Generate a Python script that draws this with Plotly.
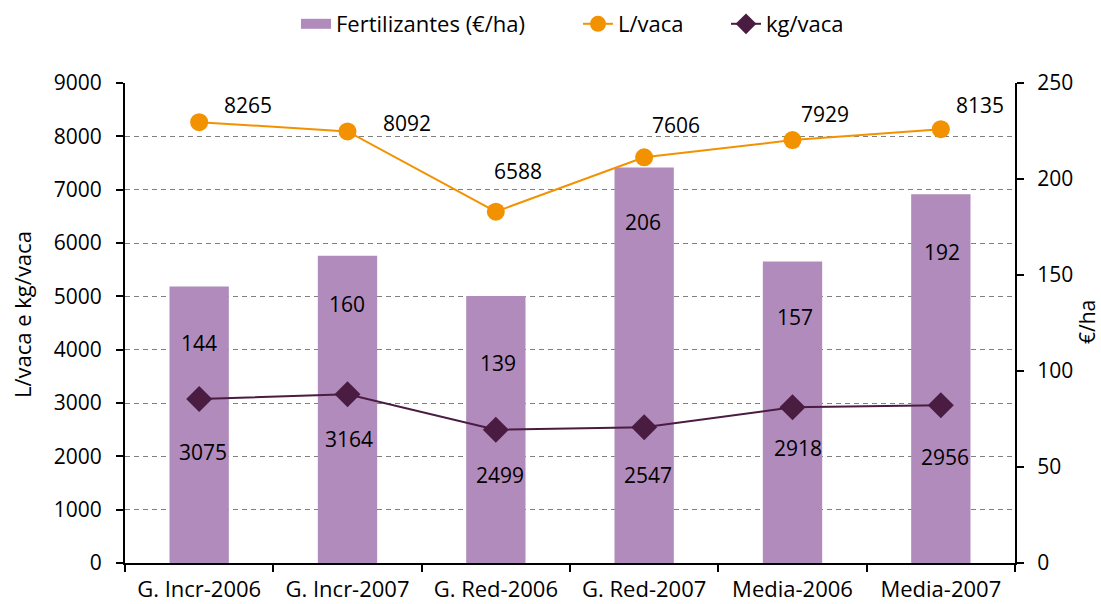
import plotly.graph_objects as go

categories = ["G. Incr-2006", "G. Incr-2007", "G. Red-2006", "G. Red-2007", "Media-2006", "Media-2007"]
fertilizantes = [144, 160, 139, 206, 157, 192]
l_vaca = [8265, 8092, 6588, 7606, 7929, 8135]
kg_vaca = [3075, 3164, 2499, 2547, 2918, 2956]

# label offsets (pixels) – styling only
l_shift = [(49, 17), (59, 8), (22, 41), (32, 32), (32, 26), (39, 24)]
bar_shift = [(0, -56), (-1, -48), (2, -67), (-1, -55), (2, -55), (1, -58)]
kg_shift = [(4, -53), (1, -45), (4, -45), (4, -48), (5, -41), (4, -52)]

FONT = "Open Sans"
ORANGE = "#F39200"
PURPLE = "#4A1C42"
BAR = "#B08BBB"

fig = go.Figure()
# bars on the base axis (drawn first), lines on the overlaying axis (drawn on top)
fig.add_trace(go.Bar(x=categories, y=fertilizantes, name="Fertilizantes (€/ha)",
                     marker=dict(color=BAR, line=dict(width=0)), width=0.4, yaxis="y",
                     showlegend=False))
# legend-only swatch for the bars (wide rectangle like the reference)
fig.add_trace(go.Scatter(x=[None], y=[None], name="Fertilizantes (€/ha)", mode="lines",
                         line=dict(color=BAR, width=10), yaxis="y", legend="legend"))
fig.add_trace(go.Scatter(x=categories, y=l_vaca, name="L/vaca", mode="lines+markers",
                         line=dict(color=ORANGE, width=2), yaxis="y2", legend="legend2",
                         marker=dict(symbol="circle", size=18, color=ORANGE)))
fig.add_trace(go.Scatter(x=categories, y=kg_vaca, name="kg/vaca", mode="lines+markers",
                         line=dict(color=PURPLE, width=2), yaxis="y2", legend="legend3",
                         marker=dict(symbol="diamond", size=20, color=PURPLE)))

lab_font = dict(size=21, color="black", family=FONT)
ann = []
for c, v, (dx, dy) in zip(categories, l_vaca, l_shift):
    ann.append(dict(x=c, y=v, xref="x", yref="y2", text=str(v), showarrow=False,
                    xshift=dx, yshift=dy, font=lab_font))
for c, v, (dx, dy) in zip(categories, fertilizantes, bar_shift):
    ann.append(dict(x=c, y=v, xref="x", yref="y", text=str(v), showarrow=False,
                    xshift=dx, yshift=dy, font=lab_font))
for c, v, (dx, dy) in zip(categories, kg_vaca, kg_shift):
    ann.append(dict(x=c, y=v, xref="x", yref="y2", text=str(v), showarrow=False,
                    xshift=dx, yshift=dy, font=lab_font))
# axis titles
ann.append(dict(x=-103 / 890, y=(563 - 315) / 480, xref="paper", yref="paper",
                text="L/vaca e kg/vaca", textangle=-90, showarrow=False,
                font=dict(size=22, color="black", family=FONT),
                xanchor="center", yanchor="middle"))
ann.append(dict(x=1 + 72 / 890, y=(563 - 322) / 480, xref="paper", yref="paper",
                text="€/ha", textangle=-90, showarrow=False,
                font=dict(size=21, color="black", family=FONT),
                xanchor="center", yanchor="middle"))

axis_common = dict(showline=True, linecolor="black", linewidth=2, ticks="outside",
                   ticklen=7, tickwidth=2, tickcolor="black", zeroline=False,
                   automargin=False)

leg_common = dict(orientation="h", y=1 + 59 / 480, yanchor="middle", xanchor="left",
                  font=dict(size=22), bgcolor="rgba(0,0,0,0)")

fig.update_layout(
    width=1101, height=604,
    margin=dict(l=125, r=86, t=83, b=41, autoexpand=False),
    paper_bgcolor="white", plot_bgcolor="white",
    font=dict(family=FONT, size=21, color="black"),
    showlegend=True,
    legend=dict(x=(296 - 125) / 890, **leg_common),
    legend2=dict(x=(578 - 125) / 890, **leg_common),
    legend3=dict(x=(726 - 125) / 890, **leg_common),
    xaxis=dict(type="category", range=[-0.5, 5.5], tickson="boundaries",
               showgrid=False, ticklabelstandoff=6, tickfont=dict(size=22),
               **axis_common),
    yaxis=dict(range=[0, 250], dtick=50, side="right", showgrid=False,
               ticklabelstandoff=9, **axis_common),
    yaxis2=dict(range=[0, 9000], dtick=1000, overlaying="y", side="left",
                showgrid=True, gridcolor="#808080", gridwidth=1.3, griddash="5px,4px",
                ticklabelstandoff=10, **axis_common),
    annotations=ann,
)

fig.write_html("out.html", config={"displayModeBar": False},
               post_script="document.body.style.margin='0';")
